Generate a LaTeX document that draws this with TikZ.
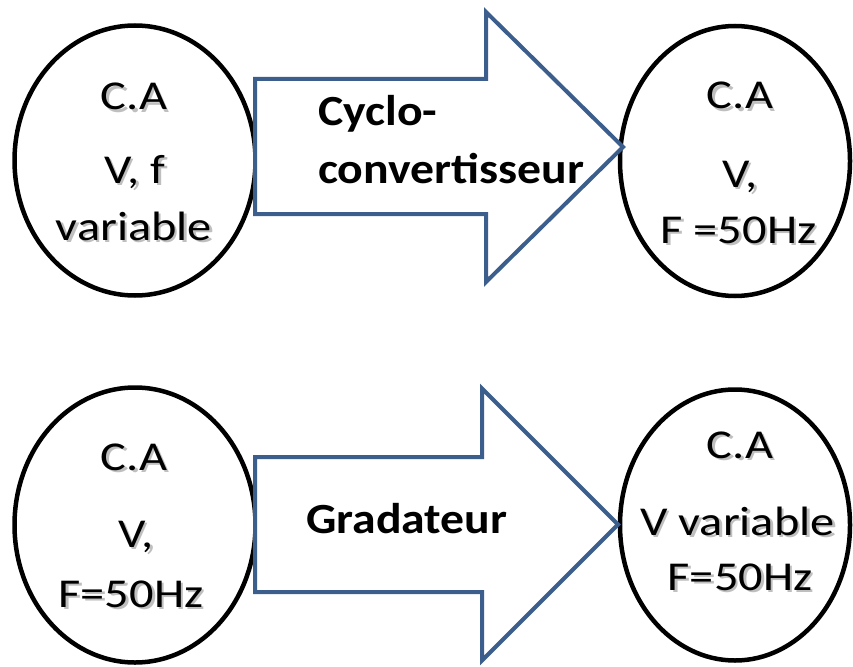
\documentclass[tikz,border=0pt]{standalone}
\usepackage{fontspec}
\setmainfont{Carlito}
\newfontfamily\regfam[FakeStretch=1.18]{Carlito}
\newfontfamily\boldfam[FakeStretch=1.11]{Carlito}
\usetikzlibrary{shapes.geometric}
\definecolor{arrowblue}{RGB}{59,94,140}
\newcommand\shtxt[1]{\makebox[0pt][l]{\hspace{2.5pt}\raisebox{-2.5pt}{\textcolor{black!25}{#1}}}#1}
\tikzset{
  ell/.style={ellipse, draw=black, line width=4.5pt, inner sep=0pt, fill=none},
  txt/.style={anchor=base, inner sep=0pt, font=\regfam\fontsize{41}{41}\selectfont},
  lbl/.style={anchor=base west, inner sep=0pt, font=\boldfam\bfseries\fontsize{43}{43}\selectfont},
  blockarrow/.style={draw=arrowblue, line width=4pt, fill=white, line join=miter}
}
\begin{document}
\begin{tikzpicture}[x=1pt,y=-1pt]
\useasboundingbox (0,0) rectangle (853,666);
% ellipses
\node[ell, minimum width=241pt, minimum height=270pt] (tl) at (135,160.5) {};
\node[ell, minimum width=230pt, minimum height=270pt] (tr) at (735,161) {};
\node[ell, minimum width=241pt, minimum height=275pt] (bl) at (135,525) {};
\node[ell, minimum width=230pt, minimum height=271pt] (br) at (735,525) {};
% block arrows
\coordinate (ta) at (255,79);
\draw[blockarrow] (ta) -- (486,79) -- (486,12) -- (623,147) -- (486,282) -- (486,214) -- (255,214) -- cycle;
\coordinate (ba) at (255,457);
\draw[blockarrow] (ba) -- (482,457) -- (482,388.5) -- (618,524.5) -- (482,660.5) -- (482,592) -- (255,592) -- cycle;
% arrow labels
\node[lbl] (c1) at (318,125) {Cyclo-};
\node[lbl] (c2) at (318,183) {convertisseur};
\node[lbl] (g1) at (306,533) {Gradateur};
% top-left text
\node[txt] (tl1) at (134,110) {\shtxt{C.A}};
\node[txt] (tl2) at (135,183) {\shtxt{V, f}};
\node[txt] (tl3) at (134,240) {\shtxt{variable}};
% top-right text
\node[txt] (tr1) at (740,109) {\shtxt{C.A}};
\node[txt] (tr2) at (740,187) {\shtxt{V,}};
\node[txt] (tr3) at (738.5,243) {\shtxt{F =50Hz}};
% bottom-left text
\node[txt] (bl1) at (134,470) {\shtxt{C.A}};
\node[txt] (bl2) at (136,547) {\shtxt{V,}};
\node[txt] (bl3) at (131,607) {\shtxt{F=50Hz}};
% bottom-right text
\node[txt] (br1) at (740,458) {\shtxt{C.A}};
\node[txt] (br2) at (737.5,535) {\shtxt{V variable}};
\node[txt] (br3) at (740,590) {\shtxt{F=50Hz}};
\end{tikzpicture}
\end{document}
